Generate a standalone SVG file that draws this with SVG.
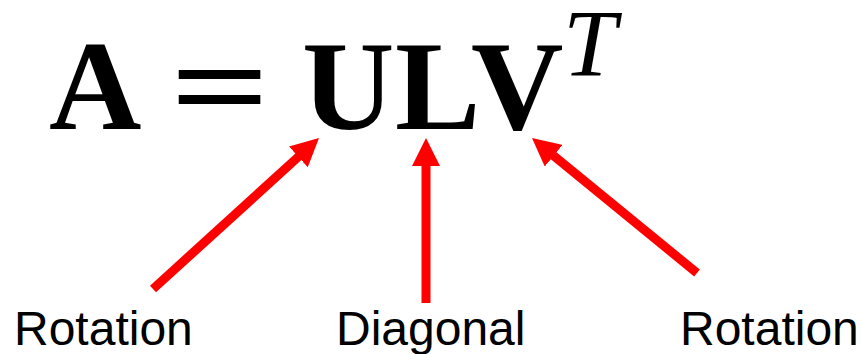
<svg xmlns="http://www.w3.org/2000/svg" width="862" height="354" viewBox="0 0 862 354">
  <defs>
    <style>
      .eq { font-family: "Liberation Serif", "Times New Roman", serif; font-weight: bold; font-size: 128px; fill: #000; }
      .sup { font-family: "Liberation Serif", "Times New Roman", serif; font-style: italic; font-size: 96px; fill: #000; }
      .lbl { font-family: "Liberation Sans", Arial, sans-serif; font-size: 48px; fill: #000; }
      .arrow { stroke: #ff0000; stroke-width: 9; fill: none; }
    </style>
    <marker id="head" viewBox="0 0 28 28" markerUnits="userSpaceOnUse" markerWidth="28" markerHeight="28" refX="2" refY="14" orient="auto">
      <path d="M0,0 L28,14 L0,28 z" fill="#ff0000"/>
    </marker>
  </defs>
  <rect width="862" height="354" fill="#fff"/>
  <g id="equation">
    <text class="eq" x="49" y="129">A</text>
    <text class="eq" x="170" y="129" textLength="100" lengthAdjust="spacingAndGlyphs">=</text>
    <text class="eq" x="302" y="129">U</text>
    <text class="eq" x="395" y="129">L</text>
    <text class="eq" x="471" y="129">V</text>
    <text class="sup" x="563" y="76">T</text>
  </g>
  <g id="label-rotation-left"><text class="lbl" x="14" y="345">Rotation</text></g>
  <g id="label-diagonal"><text class="lbl" x="336" y="345">Diagonal</text></g>
  <g id="label-rotation-right"><text class="lbl" x="680" y="345">Rotation</text></g>
  <g id="connectors">
    <line class="arrow" x1="153" y1="289" x2="299.8" y2="155.5" marker-end="url(#head)"/>
    <line class="arrow" x1="426" y1="303" x2="426" y2="164" marker-end="url(#head)"/>
    <line class="arrow" x1="697" y1="273" x2="552.1" y2="154.5" marker-end="url(#head)"/>
  </g>
</svg>
